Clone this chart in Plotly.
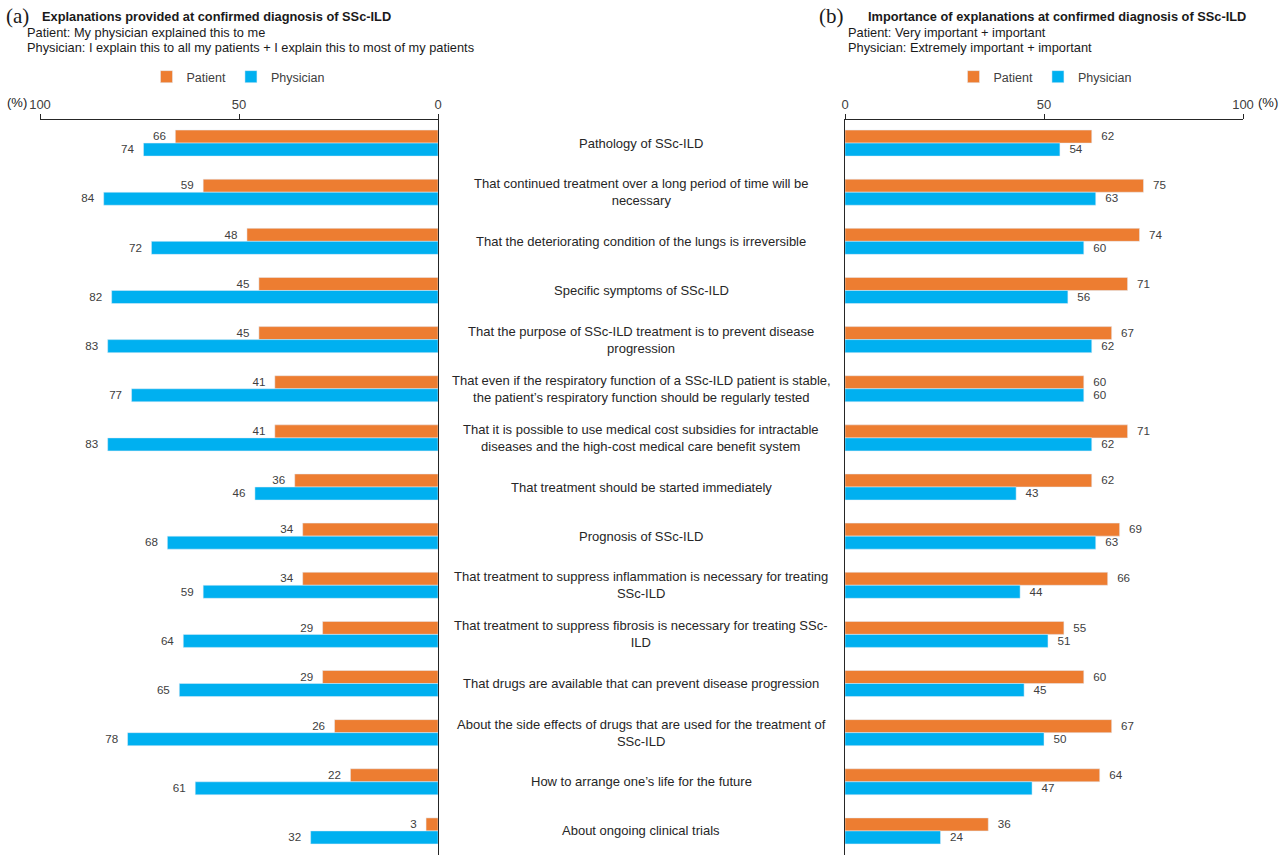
import plotly.graph_objects as go

# categories (top to bottom)
items = [
    "Pathology of SSc-ILD",
    "That continued treatment over a long period of time will be<br>necessary",
    "That the deteriorating condition of the lungs is irreversible",
    "Specific symptoms of SSc-ILD",
    "That the purpose of SSc-ILD treatment is to prevent disease<br>progression",
    "That even if the respiratory function of a SSc-ILD patient is stable,<br>the patient\u2019s respiratory function should be regularly tested",
    "That it is possible to use medical cost subsidies for intractable<br>diseases and the high-cost medical care benefit system",
    "That treatment should be started immediately",
    "Prognosis of SSc-ILD",
    "That treatment to suppress inflammation is necessary for treating<br>SSc-ILD",
    "That treatment to suppress fibrosis is necessary for treating SSc-<br>ILD",
    "That drugs are available that can prevent disease progression",
    "About the side effects of drugs that are used for the treatment of<br>SSc-ILD",
    "How to arrange one\u2019s life for the future",
    "About ongoing clinical trials",
]

# (a) explanations provided
expl_patient = [66, 59, 48, 45, 45, 41, 41, 36, 34, 34, 29, 29, 26, 22, 3]
expl_physician = [74, 84, 72, 82, 83, 77, 83, 46, 68, 59, 64, 65, 78, 61, 32]

# (b) importance of explanations
imp_patient = [62, 75, 74, 71, 67, 60, 71, 62, 69, 66, 55, 60, 67, 64, 36]
imp_physician = [54, 63, 60, 56, 62, 60, 62, 43, 63, 44, 51, 45, 50, 47, 24]

ORANGE = "#ED7D31"
BLUE = "#00B0F0"
TXT = "#404040"
FONT = "Liberation Sans, Arial, sans-serif"
NB = "\u00a0"

W, H = 1280, 862

def px(x):
    return x / W

def py(y):
    return 1 - y / H

fig = go.Figure()

for vals, name, col in [(expl_patient, "Patient", ORANGE), (expl_physician, "Physician", BLUE)]:
    fig.add_trace(go.Bar(
        x=vals, y=items, orientation="h", name=name, marker_color=col,
        texttemplate="%{x}" + NB * 2, textposition="outside",
        textfont=dict(size=12.5, color=TXT),
        cliponaxis=False, xaxis="x", yaxis="y", legend="legend",
    ))

for vals, name, col in [(imp_patient, "Patient", ORANGE), (imp_physician, "Physician", BLUE)]:
    fig.add_trace(go.Bar(
        x=vals, y=items, orientation="h", name=name, marker_color=col,
        texttemplate=NB * 2 + "%{x}", textposition="outside",
        textfont=dict(size=12.5, color=TXT),
        cliponaxis=False, xaxis="x2", yaxis="y2", legend="legend2",
    ))

yrange = [14.49, -0.47]
xcommon = dict(
    side="top", showline=True, linecolor="#262626", linewidth=1,
    ticks="outside", ticklen=5, tickcolor="#262626",
    tickvals=[0, 50, 100], showgrid=False, zeroline=False,
    tickfont=dict(size=13, color=TXT), fixedrange=True, automargin=False,
)
ycommon = dict(
    domain=[py(855), py(120)], range=yrange, showline=True, linecolor="#262626",
    showticklabels=False, ticks="", showgrid=False, automargin=False, fixedrange=True,
)

fig.update_layout(
    width=W, height=H,
    margin=dict(l=0, r=0, t=0, b=0, pad=0),
    paper_bgcolor="white", plot_bgcolor="white",
    font=dict(family=FONT, size=12, color=TXT),
    barmode="group", bargap=0.47, bargroupgap=0,
    xaxis=dict(domain=[px(40), px(438)], range=[100, 0], anchor="y", **xcommon),
    xaxis2=dict(domain=[px(845), px(1243)], range=[0, 100], anchor="y2", **xcommon),
    yaxis=dict(anchor="x", side="right", **ycommon),
    yaxis2=dict(anchor="x2", side="left", matches="y", **ycommon),
    legend=dict(orientation="h", x=px(238), y=py(77), xanchor="center", yanchor="middle",
                font=dict(size=12.5, color=TXT), itemwidth=30, traceorder="normal"),
    legend2=dict(orientation="h", x=px(1045), y=py(77), xanchor="center", yanchor="middle",
                 font=dict(size=12.5, color=TXT), itemwidth=30, traceorder="normal"),
    showlegend=True,
)

# category labels in the middle
for it in items:
    fig.add_annotation(x=px(641), xref="paper", y=it, yref="y", text=it,
                       showarrow=False, xanchor="center", yanchor="middle",
                       font=dict(size=13, color="#262626"), align="center")

# headers
SERIF = "Times New Roman, Liberation Serif, serif"
heads = [
    ("(a)", 4, 16, 21, SERIF),
    ("<b>Explanations provided at confirmed diagnosis of SSc-ILD</b>", 40, 17, 12.8, FONT),
    ("Patient: My physician explained this to me", 25, 32, 12.8, FONT),
    ("Physician: I explain this to all my patients + I explain this to most of my patients", 25, 47, 12.8, FONT),
    ("(b)", 817, 16, 21, SERIF),
    ("<b>Importance of explanations at confirmed diagnosis of SSc-ILD</b>", 866, 17, 12.8, FONT),
    ("Patient: Very important + important", 846, 32, 12.8, FONT),
    ("Physician: Extremely important + important", 846, 47, 12.8, FONT),
    ("(%)", 5, 103, 13, FONT),
    ("(%)", 1256, 103, 13, FONT),
]
for txt, x, y, sz, fam in heads:
    fig.add_annotation(x=px(x), y=py(y), xref="paper", yref="paper", text=txt,
                       showarrow=False, xanchor="left", yanchor="middle",
                       font=dict(size=sz, family=fam, color="#1a1a1a"))

fig.write_html("out.html", config={"displayModeBar": False},
               post_script="document.body.style.margin='0';")
